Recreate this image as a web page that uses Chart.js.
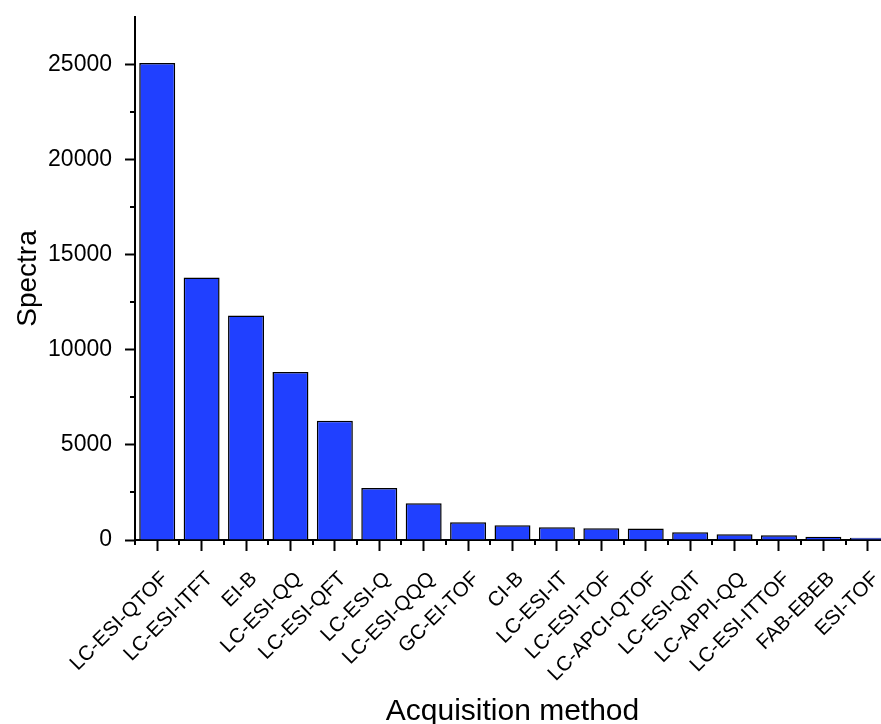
<!DOCTYPE html>
<html>
<head>
<meta charset="utf-8">
<script src="https://cdn.jsdelivr.net/npm/chart.js@4.4.0/dist/chart.umd.min.js"></script>
<style>
  body { margin: 0; overflow: hidden; background: #fff; }
  #wrap { position: absolute; left: 0; top: 0; width: 900px; height: 724px; }
</style>
</head>
<body>
<div id="wrap"><canvas id="myChart" width="900" height="724"></canvas></div>
<script>
var Labels = ["LC-ESI-QTOF", "LC-ESI-ITFT", "EI-B", "LC-ESI-QQ", "LC-ESI-QFT", "LC-ESI-Q",
  "LC-ESI-QQQ", "GC-EI-TOF", "CI-B", "LC-ESI-IT", "LC-ESI-TOF", "LC-APCI-QTOF",
  "LC-ESI-QIT", "LC-APPI-QQ", "LC-ESI-ITTOF", "FAB-EBEB", "ESI-TOF"];
var Count = [25080, 13800, 11800, 8830, 6270, 2740, 1930, 930, 770, 667, 615, 610,
  404, 300, 247, 175, 120];
var yTicks = [0, 5000, 10000, 15000, 20000, 25000];
var yMinorTicks = [2500, 7500, 12500, 17500, 22500];

var fontFam = "'Liberation Sans', Arial, sans-serif";

// minor tick marks (Chart.js only draws one tick length)
var minorTicks = {
  id: "minorTicks",
  afterDraw: function (chart) {
    var ctx = chart.ctx;
    var x = chart.scales.x;
    var y = chart.scales.y;
    ctx.save();
    ctx.strokeStyle = "#000";
    ctx.lineWidth = 2;
    ctx.beginPath();
    var step = x.getPixelForValue(1) - x.getPixelForValue(0);
    for (var i = 0; i <= Labels.length; i++) {
      var px = Math.round(x.getPixelForValue(i) - step / 2);
      ctx.moveTo(px, x.top);
      ctx.lineTo(px, x.top + 5);
    }
    for (var j = 0; j < yMinorTicks.length; j++) {
      var py = Math.round(y.getPixelForValue(yMinorTicks[j]));
      ctx.moveTo(y.right, py);
      ctx.lineTo(y.right - 5, py);
    }
    ctx.stroke();
    ctx.restore();
  }
};

var ctx = document.getElementById("myChart").getContext("2d");
var myChart = new Chart(ctx, {
  type: "bar",
  data: {
    labels: Labels,
    datasets: [
      {
        label: "Spectra",
        data: Count,
        backgroundColor: "rgb(32, 64, 255)",
        borderColor: "#000",
        borderWidth: 1.5,
        barPercentage: 0.81,
        categoryPercentage: 1.0
      }
    ]
  },
  options: {
    responsive: false,
    animation: false,
    layout: { padding: { top: 17, right: 10, bottom: 0, left: 0 } },
    plugins: {
      legend: { display: false },
      tooltip: { enabled: false }
    },
    scales: {
      x: {
        offset: true,
        grid: { display: true, drawOnChartArea: false, offset: false, tickLength: 11, tickWidth: 2, tickColor: "#000" },
        border: { display: true, color: "#000", width: 2 },
        ticks: {
          color: "#000",
          font: { family: fontFam, size: 20.5 },
          maxRotation: 45,
          minRotation: 45,
          autoSkip: false,
          padding: 16,
          labelOffset: 8
        },
        title: {
          display: true,
          text: "Acquisition method",
          color: "#000",
          font: { family: fontFam, size: 30 },
          padding: { top: 0, bottom: -6 }
        },
        afterFit: function (scale) { scale.height = 184; scale.paddingLeft = 0; scale.paddingRight = 0; }
      },
      y: {
        min: 0,
        max: 27500,
        grid: { display: true, drawOnChartArea: false, tickLength: 10, tickWidth: 2, tickColor: "#000" },
        border: { display: true, color: "#000", width: 2 },
        afterBuildTicks: function (scale) {
          scale.ticks = yTicks.map(function (v) { return { value: v }; });
        },
        ticks: {
          color: "#000",
          font: { family: fontFam, size: 23 },
          padding: 13,
          callback: function (value) { return String(value); }
        },
        title: {
          display: true,
          text: "Spectra",
          color: "#000",
          font: { family: fontFam, size: 28 },
          padding: { top: 11, bottom: 0 }
        },
        afterFit: function (scale) { scale.width = 135; scale.paddingTop = 0; scale.paddingBottom = 0; }
      }
    }
  },
  plugins: [minorTicks]
});
</script>
</body>
</html>
